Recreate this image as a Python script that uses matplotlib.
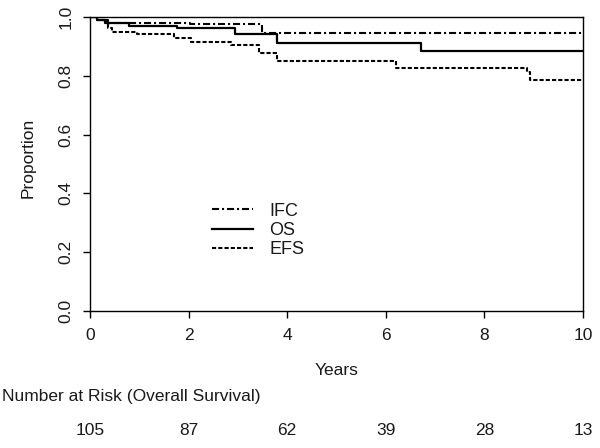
import numpy as np
import matplotlib
matplotlib.use('Agg')
import matplotlib.pyplot as plt
import matplotlib.transforms as mtransforms

plt.rcParams['font.family'] = ['Liberation Sans', 'DejaVu Sans']

# Kaplan-Meier step estimates
os_t = [0, 0.15, 0.3, 0.8, 1.76, 2.94, 3.8, 6.71, 10]
os_p = [1.0, 0.990, 0.981, 0.971, 0.961, 0.941, 0.910, 0.884, 0.884]

ifc_t = [0, 0.15, 0.35, 2.03, 3.49, 10]
ifc_p = [1.0, 0.990, 0.981, 0.975, 0.945, 0.945]

efs_t = [0, 0.15, 0.37, 0.45, 0.95, 1.7, 2.05, 2.86, 3.42, 3.8, 6.2, 8.86, 8.93, 10]
efs_p = [1.0, 0.990, 0.961, 0.950, 0.942, 0.930, 0.916, 0.905, 0.879, 0.850, 0.827,
         0.814, 0.786, 0.786]

risk_years = [0, 2, 4, 6, 8, 10]
risk_counts = [105, 87, 62, 39, 28, 13]

txt = '#1a1a1a'
fs = 12.5

fig = plt.figure(figsize=(6.0, 4.48), dpi=100)
ax = fig.add_axes([90 / 600, 1 - 311 / 448, 493 / 600, 294 / 448])

ax.step(ifc_t, ifc_p, where='post', color='black', lw=1.5,
        linestyle=(0, (3.4, 1.4, 1.0, 1.4)), label='IFC')
ax.step(os_t, os_p, where='post', color='black', lw=1.6,
        linestyle='-', label='OS')
ax.step(efs_t, efs_p, where='post', color='black', lw=1.5,
        linestyle=(0, (2.0, 1.0)), label='EFS')

ax.set_xlim(0, 10)
ax.set_ylim(0, 1.0)
ax.set_xticks(risk_years)
ax.set_yticks([0.0, 0.2, 0.4, 0.6, 0.8, 1.0])
ax.set_yticklabels(['0.0', '0.2', '0.4', '0.6', '0.8', '1.0'])
ax.tick_params(axis='both', length=5, width=1, color='black',
               labelsize=fs, labelcolor=txt)
ax.tick_params(axis='x', pad=7)
ax.tick_params(axis='y', pad=7, labelrotation=90)
for lbl in ax.get_yticklabels():
    lbl.set_va('center')
for sp in ax.spines.values():
    sp.set_linewidth(1.0)

ax.text(-0.126, 0.52, 'Proportion', transform=ax.transAxes, rotation=90,
        ha='center', va='center', fontsize=fs, color=txt)
ax.text(0.5, -0.201, 'Years', transform=ax.transAxes,
        ha='center', va='center', fontsize=fs, color=txt)

ax.legend(loc='upper left', bbox_to_anchor=(0.247, 0.368), frameon=False,
          fontsize=13, handlelength=2.3, handletextpad=0.9,
          labelspacing=0.12, borderpad=0, borderaxespad=0, labelcolor=txt)

# number at risk table under the axis
fig.text(2 / 600, 1 - 396 / 448, 'Number at Risk (Overall Survival)',
         ha='left', va='center', fontsize=fs, color=txt)
trans = mtransforms.blended_transform_factory(ax.transData, ax.transAxes)
for yr, n in zip(risk_years, risk_counts):
    ax.text(yr, -0.405, str(n), transform=trans, ha='center', va='center',
            fontsize=fs, color=txt, clip_on=False)

fig.savefig('out.png', dpi=100)
